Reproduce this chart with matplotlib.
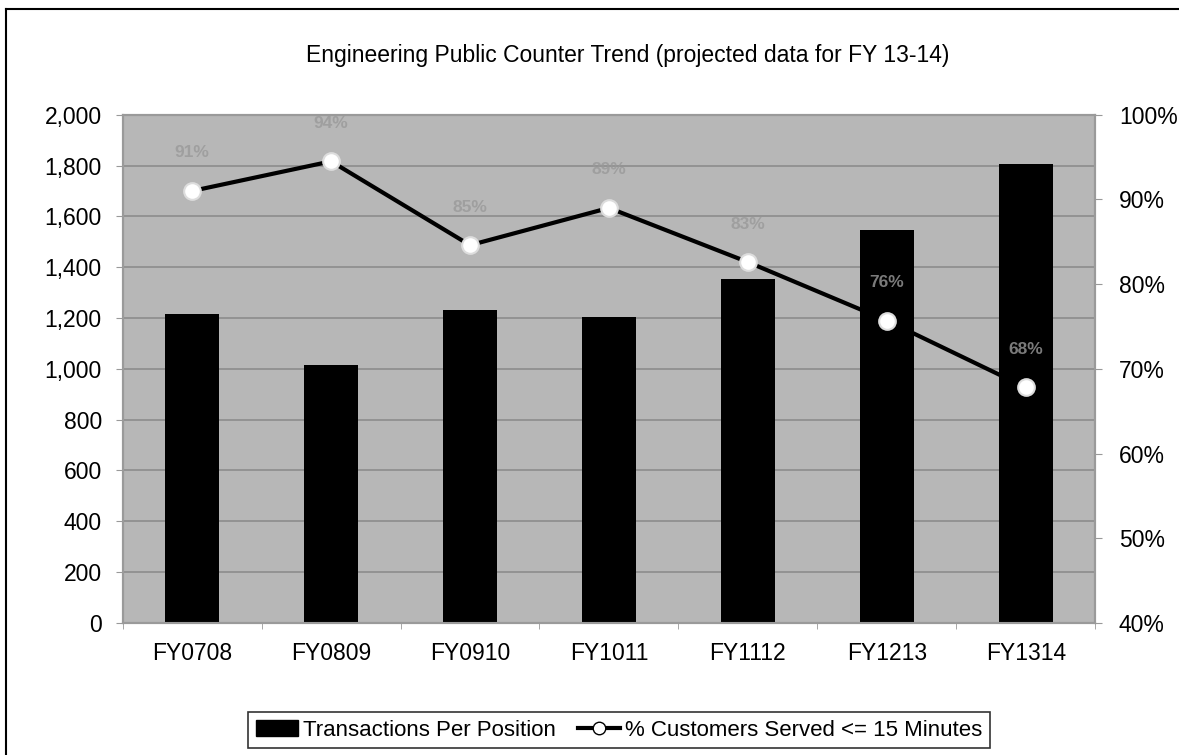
import matplotlib
matplotlib.use("Agg")
import matplotlib.pyplot as plt
from matplotlib.ticker import FuncFormatter, PercentFormatter
from matplotlib.lines import Line2D
from matplotlib.patches import Patch
import numpy as np

plt.rcParams['font.family'] = ['Liberation Sans', 'DejaVu Sans']

years = ["FY0708", "FY0809", "FY0910", "FY1011", "FY1112", "FY1213", "FY1314"]
transactions = [1215, 1015, 1230, 1205, 1355, 1545, 1805]
served_pct = [91, 94.5, 84.6, 89, 82.6, 75.7, 67.8]
pct_labels = ["91%", "94%", "85%", "89%", "83%", "76%", "68%"]

fig = plt.figure(figsize=(11.79, 7.55), dpi=100)
ax = fig.add_axes([0.104, 0.175, 0.825, 0.673])
ax2 = ax.twinx()

x = np.arange(len(years))
ax.set_facecolor("#b7b7b7")
ax.bar(x, transactions, width=0.39, color="black", zorder=3)
ax.set_xlim(-0.5, len(years) - 0.5)
ax.set_ylim(0, 2000)
ax.set_yticks(range(0, 2001, 200))
ax.yaxis.set_major_formatter(FuncFormatter(lambda v, p: f"{int(v):,}"))
ax.grid(axis="y", color="#8c8c8c", linewidth=1.2, zorder=0)
ax.set_axisbelow(True)
ax.set_xticks(x)
ax.set_xticklabels(years)
ax.set_xticks(np.arange(-0.5, len(years), 1), minor=True)
ax.tick_params(axis="x", which="major", length=0, pad=14, labelsize=16.5)
ax.tick_params(axis="x", which="minor", length=4, color="#999999")
ax.tick_params(axis="y", length=5, color="#999999", labelsize=16.5, pad=10)

ax2.plot(x, served_pct, color="black", linewidth=3, marker="o", markersize=12,
         markerfacecolor="white", markeredgecolor="#dddddd", markeredgewidth=1.5,
         zorder=5)
# faint value labels above each point
for xi, yi, lab in zip(x, served_pct, pct_labels):
    ax2.annotate(lab, (xi, yi), xytext=(0, 22), textcoords="offset points",
                 ha="center", va="bottom", fontsize=12.5, color="#999999",
                 fontweight="bold", alpha=0.8)
ax2.set_ylim(40, 100)
ax2.set_yticks(range(40, 101, 10))
ax2.yaxis.set_major_formatter(PercentFormatter(decimals=0))
ax2.tick_params(axis="y", length=5, color="#999999", labelsize=16.5, pad=12)

for a in (ax, ax2):
    for s in a.spines.values():
        s.set_color("#9a9a9a")
        s.set_linewidth(1.5)

fig.text(0.532, 0.926, "Engineering Public Counter Trend (projected data for FY 13-14)",
         ha="center", va="center", fontsize=16.5)

handles = [
    Patch(facecolor="black", edgecolor="black"),
    Line2D([0], [0], color="black", linewidth=3, marker="o", markersize=9,
           markerfacecolor="white", markeredgecolor="black"),
]
leg = fig.legend(handles, ["Transactions Per Position", "% Customers Served <= 15 Minutes"],
                 loc="center", bbox_to_anchor=(0.525, 0.033), ncol=2, fontsize=16,
                 frameon=True, fancybox=False, handlelength=1.9, handletextpad=0.2,
                 columnspacing=1.0, borderpad=0.35)
leg.get_frame().set_edgecolor("black")
leg.get_frame().set_linewidth(1.2)

# outer chart border
fig.add_artist(Line2D([0.005, 0.005], [0.0, 0.988], color="black", linewidth=1.5))
fig.add_artist(Line2D([0.005, 1.0], [0.988, 0.988], color="black", linewidth=1.5))

fig.savefig("out.png", dpi=100)
